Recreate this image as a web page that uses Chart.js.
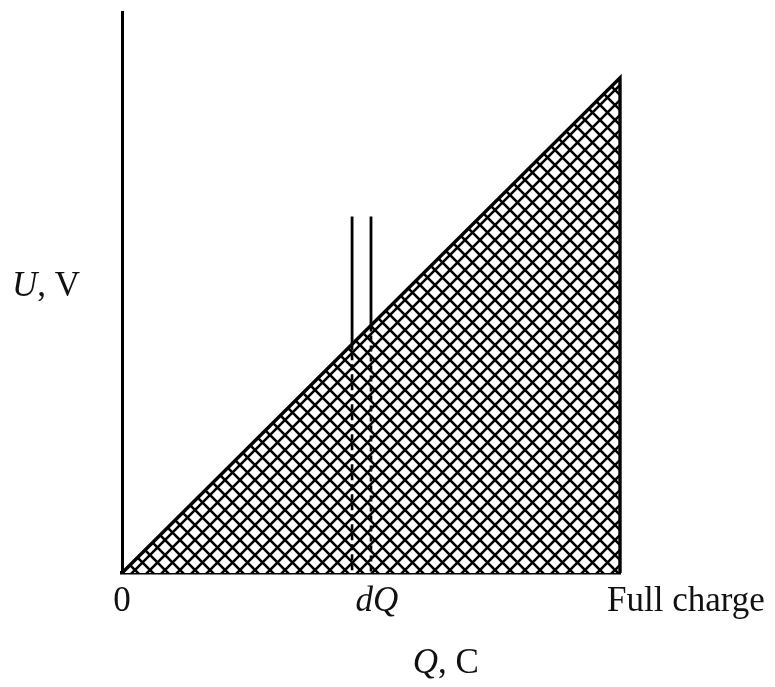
<!DOCTYPE html>
<html>
<head>
<meta charset="utf-8">
<script src="https://cdn.jsdelivr.net/npm/chart.js@4"></script>
<style>
  html, body { margin: 0; padding: 0; background: #fff; }
  #wrap { width: 775px; height: 687px; }
</style>
</head>
<body>
<div id="wrap"><canvas id="energy" width="775" height="687"></canvas></div>
<script>
// capacitor charging: U rises linearly with Q (normalised so full charge = 1, U = Q)
const chargeQ = [0, 1, 1];
const voltageU = [0, 1, 0];
// thin strip of width dQ cut out at charge q
const stripQ = [0.462, 0.5];
const stripTopU = 0.72;
const axisTopU = 1.133;
// text along the axes
const tickValues = [0, 0.5, 1];
const tickLabels = ['0', 'dQ', 'Full charge'];

const INK = '#111';
const SERIF = '"Liberation Serif", "Times New Roman", serif';
const TEXT_SIZE = 35;

function crossHatch(size, width) {
    const c = document.createElement('canvas');
    c.width = c.height = size;
    const g = c.getContext('2d');
    g.fillStyle = '#fff';
    g.fillRect(0, 0, size, size);
    g.strokeStyle = '#000';
    g.lineWidth = width;
    g.beginPath();
    for (const o of [-size, 0, size]) {
        g.moveTo(o - 1, -1);
        g.lineTo(o + size + 1, size + 1);
        g.moveTo(o - 1, size + 1);
        g.lineTo(o + size + 1, -1);
    }
    g.stroke();
    return g.createPattern(c, 'repeat');
}

// draws a run of [text, italic] pieces; align = 'left' | 'center'
function drawRuns(ctx, runs, px, py, align) {
    const font = it => (it ? 'italic ' : '') + TEXT_SIZE + 'px ' + SERIF;
    let total = 0;
    runs.forEach(([t, it]) => { ctx.font = font(it); total += ctx.measureText(t).width; });
    let cx = align === 'center' ? px - total / 2 : px;
    runs.forEach(([t, it]) => {
        ctx.font = font(it);
        ctx.fillText(t, cx, py);
        cx += ctx.measureText(t).width;
    });
}

const axisText = {
    id: 'axisText',
    afterDraw(chart) {
        const {ctx, scales: {x, y}} = chart;
        const base = y.getPixelForValue(0) + 38;
        ctx.save();
        ctx.fillStyle = INK;
        ctx.textAlign = 'left';
        ctx.textBaseline = 'alphabetic';
        drawRuns(ctx, [[tickLabels[0], false]], x.getPixelForValue(tickValues[0]), base, 'center');
        drawRuns(ctx, [['d', true], ['Q', true]], x.getPixelForValue(tickValues[1]) + 6, base, 'center');
        drawRuns(ctx, [[tickLabels[2], false]], x.getPixelForValue(tickValues[2]) - 13, base, 'left');
        // axis names
        drawRuns(ctx, [['Q', true], [', C', false]], x.getPixelForValue(0.65), base + 62, 'center');
        drawRuns(ctx, [['U', true], [', V', false]], 12, y.getPixelForValue(0.56), 'left');
        ctx.restore();
    }
};

const lineStyle = {borderColor: '#000', pointRadius: 0, fill: false, clip: false};
const triangle = chargeQ.map((q, i) => ({x: q, y: voltageU[i]}));
// solid above the line U = Q
const stripSolid = stripQ.map(q => ({
    ...lineStyle,
    data: [{x: q, y: stripTopU}, {x: q, y: q}],
    borderWidth: 2.8
}));
// dashed inside the shaded area
const stripDashed = stripQ.map(q => ({
    ...lineStyle,
    data: [{x: q, y: q}, {x: q, y: 0}],
    borderWidth: 2.6,
    borderDash: [6, 4]
}));

new Chart(document.getElementById('energy'), {
    type: 'line',
    data: {
        datasets: [...stripSolid, ...stripDashed, {
            data: triangle,
            borderColor: '#000',
            borderWidth: 3.4,
            borderJoinStyle: 'miter',
            backgroundColor: crossHatch(15, 2.6),
            pointRadius: 0,
            tension: 0,
            fill: 'origin',
            clip: false
        }]
    },
    options: {
        responsive: false,
        animation: false,
        layout: {padding: {left: 122, top: 12, right: 155, bottom: 114}},
        plugins: {legend: {display: false}, tooltip: {enabled: false}},
        scales: {
            x: {
                type: 'linear', min: 0, max: 1,
                grid: {display: false, drawTicks: false},
                border: {display: true, color: '#000', width: 3.4},
                ticks: {display: false},
                afterFit: s => { s.height = 0; }
            },
            y: {
                type: 'linear', min: 0, max: axisTopU,
                grid: {display: false, drawTicks: false},
                border: {display: true, color: '#000', width: 3},
                ticks: {display: false},
                afterFit: s => { s.width = 0; }
            }
        }
    },
    plugins: [axisText]
});
</script>
</body>
</html>
